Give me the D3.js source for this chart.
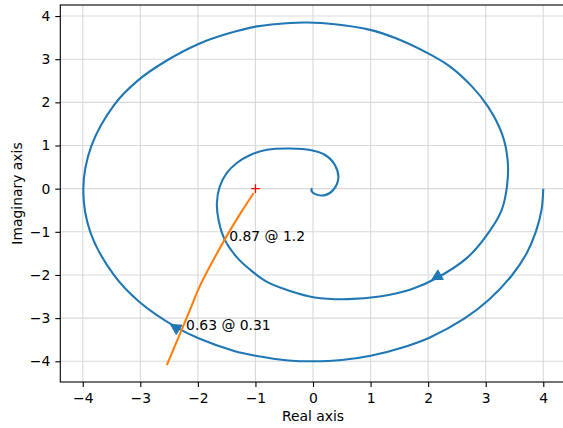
<!DOCTYPE html>
<html>
<head>
<meta charset="utf-8">
<script src="https://cdn.jsdelivr.net/npm/d3@7"></script>
<style>
  body { margin: 0; background: #fff; }
  svg { display: block; font-family: "DejaVu Sans", sans-serif; }
</style>
</head>
<body>
<svg id="chart" width="563" height="428"></svg>
<script>
// nyquist curve of the loop transfer function (re, im)
const nyquistPoints = [
  [4.00, 0.00], [3.97, -0.49], [3.87, -1.00], [3.71, -1.50], [3.46, -2.00],
  [3.06, -2.57], [2.62, -3.02], [2.03, -3.45], [1.63, -3.65], [1.00, -3.87],
  [0.50, -3.97], [0.00, -4.00], [-0.42, -3.98], [-1.00, -3.87], [-1.37, -3.76],
  [-2.00, -3.46], [-2.38, -3.21], [-3.02, -2.62], [-3.46, -2.00], [-3.87, -1.00],
  [-3.99, 0.00], [-3.85, 0.99], [-3.45, 1.95], [-3.04, 2.51], [-2.54, 2.97],
  [-1.98, 3.36], [-1.49, 3.59], [-0.97, 3.76], [-0.40, 3.84], [-0.10, 3.85],
  [0.38, 3.81], [0.99, 3.68], [1.45, 3.48], [1.95, 3.17], [2.38, 2.83],
  [2.76, 2.37], [3.04, 1.90], [3.28, 1.28], [3.38, 0.68], [3.37, 0.06],
  [3.27, -0.52], [3.00, -1.11], [2.67, -1.61], [2.15, -2.07], [1.71, -2.33],
  [1.16, -2.50], [0.61, -2.56], [0.03, -2.52], [-0.40, -2.37], [-0.80, -2.16],
  [-1.09, -1.88], [-1.33, -1.58], [-1.53, -1.19], [-1.64, -0.73], [-1.67, -0.34],
  [-1.62, 0.05], [-1.50, 0.36], [-1.33, 0.59], [-1.09, 0.78], [-0.80, 0.90],
  [-0.40, 0.93], [-0.03, 0.89], [0.21, 0.78], [0.38, 0.55], [0.44, 0.24],
  [0.35, -0.03], [0.21, -0.15], [0.03, -0.12], [-0.03, -0.03], [-0.01, 0.01]
];

// -1/N(A) of the describing function
const describingPoints = [
  [-1.03, -0.10], [-1.25, -0.55], [-1.50, -1.10], [-1.75, -1.70],
  [-1.97, -2.27], [-2.15, -2.85], [-2.30, -3.33], [-2.54, -4.09]
];

// where the direction arrows sit on the nyquist curve
const arrowPoints = [[2.14, -2.05], [-2.40, -3.21]];

// intersection labels (amplitude @ frequency) and their anchor
const intersectionLabels = ["0.87 @ 1.2", "0.63 @ 0.31"];
const intersectionAnchors = [[-1.455, -1.21], [-2.205, -3.27]];

const criticalPoint = [-1, 0];

const xTicks = [-4, -3, -2, -1, 0, 1, 2, 3, 4];
const yTicks = [-4, -3, -2, -1, 0, 1, 2, 3, 4];

const svg = d3.select("#chart");

// plot box (right edge falls just outside the picture)
const box = { left: 60.3, top: 5, bottom: 382, right: 566.3 };

const x = d3.scaleLinear().domain([-4.39, 4.40]).range([box.left, box.right]);
const y = d3.scaleLinear().domain([-4.48, 4.256]).range([box.bottom, box.top]);

svg.append("defs")
  .append("clipPath")
  .attr("id", "plot-clip")
  .append("rect")
  .attr("x", box.left)
  .attr("y", box.top)
  .attr("width", box.right - box.left)
  .attr("height", box.bottom - box.top);

// grid
const grid = svg.append("g").attr("clip-path", "url(#plot-clip)");
grid.selectAll(".gx")
  .data(xTicks)
  .join("line")
  .attr("x1", (d) => x(d))
  .attr("x2", (d) => x(d))
  .attr("y1", box.top)
  .attr("y2", box.bottom)
  .style("stroke", "#d9d9d9")
  .style("stroke-width", 1.1);
grid.selectAll(".gy")
  .data(yTicks)
  .join("line")
  .attr("x1", box.left)
  .attr("x2", box.right)
  .attr("y1", (d) => y(d))
  .attr("y2", (d) => y(d))
  .style("stroke", "#d9d9d9")
  .style("stroke-width", 1.1);

const plot = svg.append("g").attr("clip-path", "url(#plot-clip)");

const line = d3
  .line()
  .x((d) => x(d[0]))
  .y((d) => y(d[1]))
  .curve(d3.curveCatmullRom.alpha(0.5));

plot.append("path")
  .datum(nyquistPoints)
  .attr("d", line)
  .style("fill", "none")
  .style("stroke", "#1f77b4")
  .style("stroke-width", 2.1)
  .style("stroke-linejoin", "round");

// arrow heads pointing along the curve
arrowPoints.forEach(([re, im]) => {
  // find the nearest vertex and use the local direction
  let best = 0;
  nyquistPoints.forEach((p, i) => {
    const d0 = Math.hypot(p[0] - re, p[1] - im);
    const d1 = Math.hypot(nyquistPoints[best][0] - re, nyquistPoints[best][1] - im);
    if (d0 < d1) best = i;
  });
  const a = nyquistPoints[Math.max(best - 1, 0)];
  const b = nyquistPoints[Math.min(best + 1, nyquistPoints.length - 1)];
  const dx = x(b[0]) - x(a[0]);
  const dy = y(b[1]) - y(a[1]);
  const len = Math.hypot(dx, dy);
  const ux = dx / len, uy = dy / len;
  const cx = x(re), cy = y(im);
  const headLen = 10, halfW = 5.5;
  const tip = [cx + ux * headLen * 0.5, cy + uy * headLen * 0.5];
  const base = [cx - ux * headLen * 0.5, cy - uy * headLen * 0.5];
  const pts = [
    tip,
    [base[0] - uy * halfW, base[1] + ux * halfW],
    [base[0] + uy * halfW, base[1] - ux * halfW]
  ];
  plot.append("path")
    .attr("d", "M" + pts.map((p) => p.join(",")).join("L") + "Z")
    .style("fill", "#1f77b4")
    .style("stroke", "#1f77b4")
    .style("stroke-width", 1);
});

// critical point
const cpx = x(criticalPoint[0]), cpy = y(criticalPoint[1]);
plot.append("path")
  .attr("d", `M${cpx - 4.3},${cpy}H${cpx + 4.3}M${cpx},${cpy - 4.3}V${cpy + 4.3}`)
  .style("stroke", "#ff0000")
  .style("stroke-width", 1.3);

plot.append("path")
  .datum(describingPoints)
  .attr("d", line)
  .style("fill", "none")
  .style("stroke", "#ff7f0e")
  .style("stroke-width", 2.1);

plot.selectAll(".dflabel")
  .data(intersectionLabels)
  .join("text")
  .attr("x", (d, i) => x(intersectionAnchors[i][0]))
  .attr("y", (d, i) => y(intersectionAnchors[i][1]))
  .style("font-size", "13.9px")
  .style("fill", "#000")
  .text((d) => d);

// axes
const xAxis = svg.append("g")
  .attr("transform", `translate(0,${box.bottom})`)
  .call(d3.axisBottom(x).tickValues(xTicks).tickSize(5).tickPadding(6).tickSizeOuter(0));
const yAxis = svg.append("g")
  .attr("transform", `translate(${box.left},0)`)
  .call(d3.axisLeft(y).tickValues(yTicks).tickSize(5).tickPadding(5).tickSizeOuter(0));

[xAxis, yAxis].forEach((g) => {
  g.select(".domain").remove();
  g.selectAll("line").style("stroke", "#000").style("stroke-width", 1.1);
  g.selectAll("text")
    .style("font-size", "13.9px")
    .style("font-family", "DejaVu Sans, sans-serif")
    .style("fill", "#000");
});

// frame
svg.append("rect")
  .attr("x", box.left)
  .attr("y", box.top)
  .attr("width", box.right - box.left)
  .attr("height", box.bottom - box.top)
  .style("fill", "none")
  .style("stroke", "#000")
  .style("stroke-width", 1.1);

svg.append("text")
  .attr("x", x(0))
  .attr("y", 421)
  .attr("text-anchor", "middle")
  .style("font-size", "13.9px")
  .text("Real axis");

svg.append("text")
  .attr("transform", `translate(22,${(box.top + box.bottom) / 2}) rotate(-90)`)
  .attr("text-anchor", "middle")
  .style("font-size", "13.9px")
  .text("Imaginary axis");
</script>
</body>
</html>
